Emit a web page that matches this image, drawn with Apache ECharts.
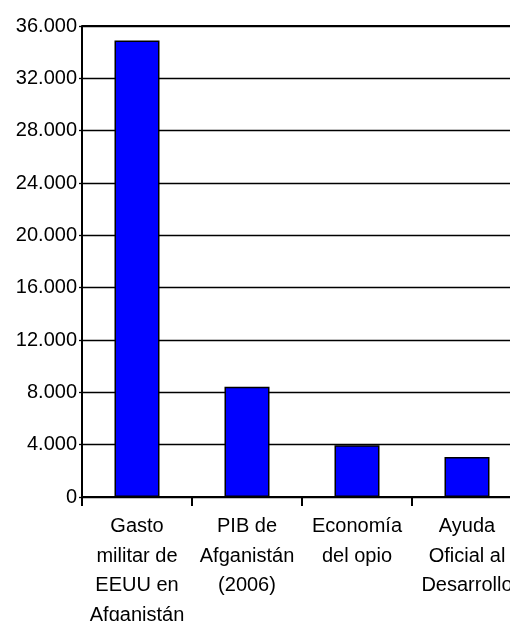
<!DOCTYPE html>
<html><head><meta charset="utf-8">
<script src="https://cdn.jsdelivr.net/npm/echarts@6/dist/echarts.min.js"></script>
<style>html,body{margin:0;padding:0;background:#fff;overflow:hidden;width:510px;height:621px}#c{width:524px;height:650px}</style>
</head><body><div id="c"></div>
<script>
const categories = ["Gasto\nmilitar de\nEEUU en\nAfganistán", "PIB de\nAfganistán\n(2006)", "Economía\ndel opio", "Ayuda\nOficial al\nDesarrollo"];
const values = [34900, 8420, 3950, 3050];
const yMin = 0, yMax = 36000, yStep = 4000;

const chart = echarts.init(document.getElementById('c'), null, {renderer: 'canvas'});
chart.setOption({
  animation: false,
  backgroundColor: '#fff',
  grid: {left: 82, top: 26, width: 440, height: 471, containLabel: false, outerBoundsMode: 'none'},
  xAxis: {
    type: 'category',
    data: categories,
    axisLine: {lineStyle: {color: '#000', width: 2}},
    axisTick: {show: true, length: 9, lineStyle: {color: '#000', width: 2}, alignWithLabel: false},
    axisLabel: {interval: 0, color: '#000', fontFamily: 'Liberation Sans', fontSize: 20, lineHeight: 29.5, margin: 15}
  },
  yAxis: {
    type: 'value', min: yMin, max: yMax, interval: yStep,
    axisLine: {show: true, lineStyle: {color: '#000', width: 2}},
    axisTick: {show: true, length: 3, lineStyle: {color: '#000', width: 1.3}},
    splitLine: {show: true, lineStyle: {color: '#000', width: 1.3}},
    axisLabel: {color: '#000', fontFamily: 'Liberation Sans', fontSize: 20, margin: 5,
      formatter: v => v === 0 ? '0' : String(v).replace(/\B(?=(\d{3})+(?!\d))/g, '.')}
  },
  series: [{
    type: 'bar', data: values, barWidth: 45,
    itemStyle: {color: '#0000FF', borderColor: '#000', borderWidth: 1.5},
    markLine: {silent: true, symbol: 'none', label: {show: false},
      lineStyle: {color: '#000', width: 2, type: 'solid'}, data: [{yAxis: yMax}]}
  }]
});
</script></body></html>
